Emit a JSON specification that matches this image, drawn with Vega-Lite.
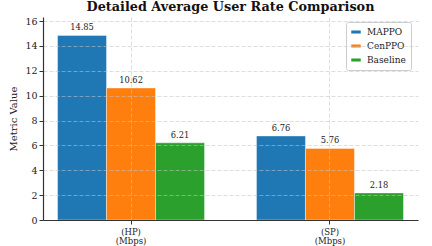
{
  "$schema": "https://vega.github.io/schema/vega-lite/v6.json",
  "width": 375,
  "height": 203,
  "autosize": {"type": "none"},
  "padding": {"left": 43, "top": 17, "right": 14, "bottom": 26},
  "background": "white",
  "title": {"text": "Detailed Average User Rate Comparison", "font": "DejaVu Serif", "fontSize": 12.8, "fontWeight": "bold", "color": "#111", "offset": 2},
  "config": {
    "view": {"stroke": null},
    "font": "DejaVu Serif",
    "axis": {"labelFont": "DejaVu Serif", "titleFont": "DejaVu Serif", "labelColor": "#222", "titleColor": "#222", "domainColor": "#333", "tickColor": "#333", "gridColor": "#c4c4c4", "gridDash": [4, 2], "gridWidth": 0.7, "gridOpacity": 0.8}
  },
  "data": {"values": [
    {"metric": "(HP)|(Mbps)", "method": "MAPPO", "value": 14.85},
    {"metric": "(HP)|(Mbps)", "method": "CenPPO", "value": 10.62},
    {"metric": "(HP)|(Mbps)", "method": "Baseline", "value": 6.21},
    {"metric": "(SP)|(Mbps)", "method": "MAPPO", "value": 6.76},
    {"metric": "(SP)|(Mbps)", "method": "CenPPO", "value": 5.76},
    {"metric": "(SP)|(Mbps)", "method": "Baseline", "value": 2.18}
  ]},
  "encoding": {
    "x": {"field": "metric", "type": "nominal", "sort": null,
      "scale": {"paddingInner": 0.261, "paddingOuter": 0.073},
      "axis": {"title": null, "labelAngle": 0, "labelExpr": "split(datum.value, '|')", "labelFontSize": 8.5, "labelLineHeight": 9, "labelPadding": 3, "grid": true, "domainWidth": 1.2, "tickSize": 4, "zindex": 1, "bandPosition": 0.5}},
    "xOffset": {"field": "method", "type": "nominal", "sort": ["MAPPO", "CenPPO", "Baseline"], "scale": {"paddingInner": 0, "paddingOuter": 0}},
    "y": {"field": "value", "type": "quantitative",
      "scale": {"domain": [0, 16.33], "nice": false},
      "axis": {"title": "Metric Value", "titleFontSize": 10, "titleFontWeight": "normal", "titlePadding": 6, "labelFontSize": 9.5, "values": [0, 2, 4, 6, 8, 10, 12, 14, 16], "tickSize": 4, "domainWidth": 1.2, "zindex": 1}}
  },
  "layer": [
    {
      "mark": {"type": "bar", "stroke": "white", "strokeWidth": 0.7, "strokeOpacity": 0.6},
      "encoding": {
        "color": {"field": "method", "type": "nominal", "sort": ["MAPPO", "CenPPO", "Baseline"],
          "scale": {"domain": ["MAPPO", "CenPPO", "Baseline"], "range": ["#1f77b4", "#ff7f0e", "#2ca02c"]},
          "legend": {"title": null, "orient": "none", "legendX": 303, "legendY": 5, "labelFont": "DejaVu Serif", "labelFontSize": 9, "labelColor": "#222", "symbolType": "M-1,-0.32H1V0.32H-1Z", "symbolSize": 90, "symbolStrokeWidth": 0, "symbolOpacity": 1, "rowPadding": 4, "padding": 5, "strokeColor": "#ccc", "fillColor": "white", "cornerRadius": 2, "labelOffset": 6}}
      }
    },
    {
      "mark": {"type": "text", "baseline": "bottom", "dy": -3, "font": "DejaVu Serif", "fontSize": 8.3, "color": "#222"},
      "encoding": {"text": {"field": "value", "type": "quantitative", "format": ".2f"}}
    }
  ]
}
